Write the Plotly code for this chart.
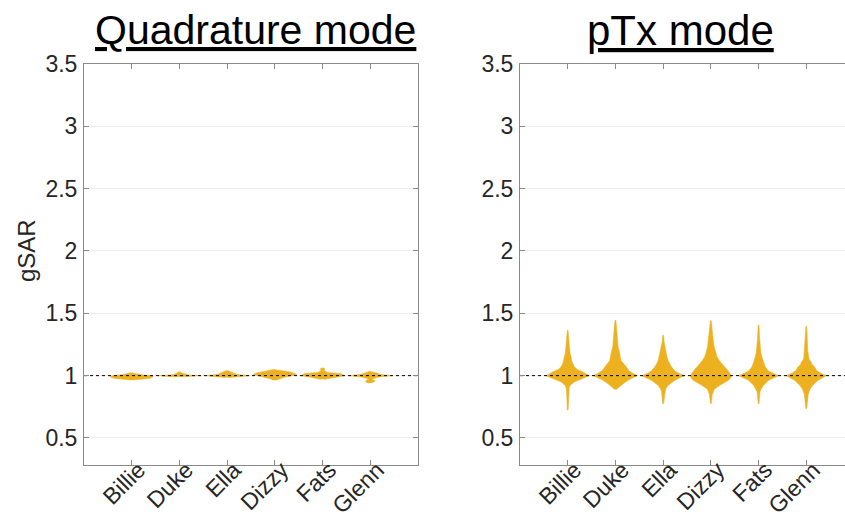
import plotly.graph_objects as go

# Subjects shown on both panels
subjects = ["Billie", "Duke", "Ella", "Dizzy", "Fats", "Glenn"]
positions = [1, 2, 3, 4, 5, 6]

y_ticks = [0.5, 1, 1.5, 2, 2.5, 3, 3.5]
y_tick_text = ["0.5", "1", "1.5", "2", "2.5", "3", "3.5"]
ref_level = 1.0

# Violin outlines: gSAR levels and the half-width of the density at each level
quad_levels = [
    [0.965, 0.972, 0.978, 0.99, 1.00, 1.008, 1.016, 1.024],
    [0.99, 0.995, 1.00, 1.005, 1.012, 1.02, 1.03],
    [0.985, 0.99, 1.00, 1.01, 1.024, 1.03, 1.04],
    [0.963, 0.975, 0.984, 0.995, 1.008, 1.02, 1.03, 1.04, 1.05],
    [0.97, 0.984, 1.00, 1.016, 1.025, 1.035, 1.045, 1.05, 1.058, 1.062],
    [0.94, 0.947, 0.955, 0.963, 0.97, 0.978, 0.99, 1.00, 1.01, 1.02, 1.03, 1.035],
]
quad_halfwidth = [
    [0.02, 0.2, 0.37, 0.45, 0.40, 0.2, 0.1, 0.02],
    [0.02, 0.3, 0.45, 0.2, 0.1, 0.06, 0.02],
    [0.03, 0.15, 0.47, 0.2, 0.12, 0.08, 0.02],
    [0.02, 0.1, 0.175, 0.3, 0.455, 0.40, 0.315, 0.15, 0.03],
    [0.04, 0.21, 0.455, 0.385, 0.1, 0.05, 0.03, 0.04, 0.04, 0.01],
    [0.02, 0.08, 0.1, 0.08, 0.03, 0.08, 0.2, 0.45, 0.2, 0.15, 0.05, 0.02],
]

ptx_levels = [
    [0.722, 0.78, 0.85, 0.90, 0.92, 0.95, 0.976, 1.00, 1.03, 1.05, 1.07, 1.10,
     1.12, 1.15, 1.18, 1.23, 1.28, 1.363],
    [0.888, 0.91, 0.936, 0.963, 0.985, 1.00, 1.02, 1.04, 1.07, 1.10, 1.12, 1.15,
     1.18, 1.23, 1.28, 1.34, 1.40, 1.444],
    [0.775, 0.82, 0.86, 0.89, 0.92, 0.963, 0.985, 1.00, 1.02, 1.04, 1.07, 1.10,
     1.12, 1.15, 1.18, 1.23, 1.27, 1.323],
    [0.775, 0.81, 0.85, 0.89, 0.92, 0.963, 0.985, 1.00, 1.03, 1.05, 1.07, 1.10,
     1.12, 1.15, 1.18, 1.23, 1.28, 1.34, 1.40, 1.44],
    [0.775, 0.83, 0.87, 0.89, 0.92, 0.963, 0.985, 1.00, 1.02, 1.04, 1.07, 1.10,
     1.12, 1.15, 1.18, 1.23, 1.30, 1.404],
    [0.735, 0.78, 0.81, 0.85, 0.89, 0.92, 0.963, 0.985, 1.00, 1.02, 1.04, 1.07,
     1.09, 1.11, 1.13, 1.15, 1.20, 1.30, 1.395],
]
ptx_halfwidth = [
    [0.008, 0.015, 0.02, 0.03, 0.05, 0.14, 0.31, 0.455, 0.31, 0.2, 0.14, 0.10,
     0.08, 0.07, 0.05, 0.035, 0.02, 0.008],
    [0.01, 0.09, 0.16, 0.26, 0.38, 0.46, 0.36, 0.28, 0.23, 0.16, 0.12, 0.10,
     0.09, 0.055, 0.04, 0.03, 0.02, 0.008],
    [0.008, 0.02, 0.03, 0.05, 0.10, 0.245, 0.36, 0.45, 0.32, 0.24, 0.175, 0.13,
     0.105, 0.08, 0.063, 0.04, 0.02, 0.008],
    [0.008, 0.02, 0.03, 0.07, 0.18, 0.37, 0.42, 0.43, 0.38, 0.34, 0.29, 0.22,
     0.18, 0.13, 0.105, 0.07, 0.05, 0.035, 0.02, 0.008],
    [0.008, 0.02, 0.03, 0.05, 0.10, 0.21, 0.33, 0.42, 0.30, 0.20, 0.14, 0.11,
     0.09, 0.07, 0.05, 0.035, 0.02, 0.008],
    [0.008, 0.02, 0.03, 0.04, 0.077, 0.13, 0.245, 0.35, 0.42, 0.30, 0.22, 0.175,
     0.12, 0.10, 0.06, 0.05, 0.03, 0.02, 0.008],
]

VIOLIN = "#EDB120"
AXIS = "#8a8a8a"
TEXT = "#262626"
FONT = "Liberation Sans, Arial, sans-serif"
TICK_SIZE = 23

W, H = 845, 522
left_px = (84, 418)
right_px = (520, 845)
top_px, bottom_px = 64, 465
px_per_unit = (left_px[1] - left_px[0]) / 7.0
right_range_end = (right_px[1] - right_px[0]) / px_per_unit
# rotated category labels sit a little to the right of their tick marks
label_shift = 7 / px_per_unit

fig = go.Figure()


def add_violins(levels, halfwidths, xa, ya):
    for pos, ys, hw in zip(positions, levels, halfwidths):
        xs = [pos + w for w in hw] + [pos - w for w in reversed(hw)]
        yy = list(ys) + list(reversed(ys))
        fig.add_trace(go.Scatter(
            x=xs, y=yy, mode="lines", fill="toself",
            fillcolor=VIOLIN, line=dict(color=VIOLIN, width=0.6),
            xaxis=xa, yaxis=ya, showlegend=False, hoverinfo="skip",
        ))
    fig.add_trace(go.Scatter(
        x=[0, 7], y=[ref_level, ref_level], mode="lines",
        line=dict(color="black", width=1, dash="dot"),
        xaxis=xa, yaxis=ya, showlegend=False, hoverinfo="skip",
    ))


add_violins(quad_levels, quad_halfwidth, "x", "y")
add_violins(ptx_levels, ptx_halfwidth, "x2", "y2")

# anchors for the label-only axes
for xa, ya in (("x3", "y"), ("x4", "y2")):
    fig.add_trace(go.Scatter(
        x=[positions[0]], y=[ref_level], mode="markers",
        marker=dict(opacity=0, size=1), xaxis=xa, yaxis=ya,
        showlegend=False, hoverinfo="skip",
    ))

y_dom = [1 - bottom_px / H, 1 - top_px / H]
left_dom = [left_px[0] / W, left_px[1] / W]
right_dom = [right_px[0] / W, 1.0]

tick_axis = dict(
    tickvals=positions, showticklabels=False,
    ticks="inside", ticklen=5, tickcolor=AXIS,
    showline=True, linecolor=AXIS, linewidth=1, mirror="ticks",
    showgrid=False, zeroline=False, automargin=False,
)
label_axis = dict(
    tickvals=positions, ticktext=subjects, tickangle=-45,
    ticks="", showline=False, showgrid=False, zeroline=False,
    automargin=False, ticklabelstandoff=-14,
    tickfont=dict(family=FONT, size=TICK_SIZE, color=TEXT),
)
common_y = dict(
    range=[0.283, 3.5], tickvals=y_ticks, ticktext=y_tick_text,
    ticks="inside", ticklen=5, tickcolor=AXIS,
    showline=True, linecolor=AXIS, linewidth=1,
    showgrid=True, gridcolor="#ededed", gridwidth=1, zeroline=False,
    tickfont=dict(family=FONT, size=TICK_SIZE, color=TEXT),
    domain=y_dom, ticklabelstandoff=1, automargin=False,
)

fig.update_layout(
    width=W, height=H,
    margin=dict(l=0, r=0, t=0, b=0),
    paper_bgcolor="white", plot_bgcolor="white",
    font=dict(family=FONT, color=TEXT),
    xaxis=dict(tick_axis, domain=left_dom, range=[0, 7], anchor="y"),
    yaxis=dict(common_y, mirror="ticks", anchor="x"),
    xaxis2=dict(tick_axis, domain=right_dom, range=[0, right_range_end],
                anchor="y2"),
    yaxis2=dict(common_y, anchor="x2"),
    xaxis3=dict(label_axis, domain=left_dom, overlaying="x", anchor="y",
                range=[-label_shift, 7 - label_shift]),
    xaxis4=dict(label_axis, domain=right_dom, overlaying="x2", anchor="y2",
                range=[-label_shift, right_range_end - label_shift]),
    annotations=[
        dict(text="<u>Quadrature mode</u>", x=255 / W, y=1 - 30 / H,
             xref="paper", yref="paper", showarrow=False,
             xanchor="center", yanchor="middle",
             font=dict(family=FONT, size=41, color="black")),
        dict(text="<u>pTx mode</u>", x=680 / W, y=1 - 30 / H,
             xref="paper", yref="paper", showarrow=False,
             xanchor="center", yanchor="middle",
             font=dict(family=FONT, size=42, color="black")),
        dict(text="gSAR", x=26 / W, y=1 - 251 / H,
             xref="paper", yref="paper", showarrow=False, textangle=-90,
             xanchor="center", yanchor="middle",
             font=dict(family=FONT, size=24, color=TEXT)),
    ],
)

fig.write_html("out.html")
